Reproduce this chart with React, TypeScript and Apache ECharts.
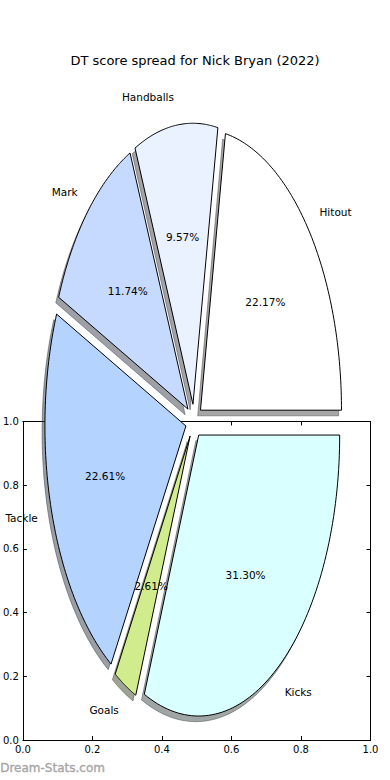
import React, { useEffect, useRef } from "react";
import * as echarts from "echarts";

const categories = ["Hitout", "Handballs", "Mark", "Tackle", "Goals", "Kicks"];
const percentages = [22.17, 9.57, 11.74, 22.61, 2.61, 31.3];
const axisTicks = [0, 0.2, 0.4, 0.6, 0.8, 1.0];
const titleText = "DT score spread for Nick Bryan (2022)";
const watermark = "Dream-Stats.com";

const sliceColors = ["#ffffff", "#eaf1ff", "#c6d9ff", "#b4d4ff", "#d0ec8c", "#d9ffff"];
const FONT = "DejaVu Sans";
const EXPLODE = 0.06;
const SHADOW = -0.02;

function hexRgb(h: string) {
  const n = parseInt(h.slice(1), 16);
  return [(n >> 16) & 255, (n >> 8) & 255, n & 255];
}

function geom(i: number) {
  const total = percentages.reduce((a, b) => a + b, 0);
  let cum = 0;
  for (let k = 0; k < i; k++) cum += percentages[k];
  const t1 = (cum / total) * 2 * Math.PI;
  const t2 = ((cum + percentages[i]) / total) * 2 * Math.PI;
  const mid = (t1 + t2) / 2;
  const ox = EXPLODE * Math.cos(mid);
  const oy = EXPLODE * Math.sin(mid);
  return { t1, t2, mid, ox, oy };
}

function wedgePoints(api: any, i: number, dx: number, dy: number) {
  const g = geom(i);
  const pts: number[][] = [api.coord([g.ox + dx, g.oy + dy])];
  const n = 80;
  for (let k = 0; k <= n; k++) {
    const t = g.t1 + ((g.t2 - g.t1) * k) / n;
    pts.push(api.coord([g.ox + dx + Math.cos(t), g.oy + dy + Math.sin(t)]));
  }
  return pts;
}

export default function App() {
  const ref = useRef<HTMLDivElement>(null);
  useEffect(() => {
    if (!ref.current) return;
    const chart = echarts.init(ref.current, null, { renderer: "svg" });
    const data = percentages.map((v, i) => [i, v]);
    const tickFmt = (v: number) => v.toFixed(1);
    const axisCommon = {
      type: "value",
      min: 0,
      max: 1,
      interval: 0.2,
      gridIndex: 0,
      splitLine: { show: false },
      axisLine: { show: true, onZero: false, lineStyle: { color: "#000", width: 1 } },
      axisTick: { show: true, inside: true, length: 4, lineStyle: { color: "#000" } },
    };
    chart.setOption({
      animation: false,
      backgroundColor: "#fff",
      textStyle: { fontFamily: FONT },
      title: {
        text: titleText,
        left: "center",
        top: 54,
        padding: 0,
        textStyle: { fontFamily: FONT, fontSize: 13, fontWeight: "normal", color: "#000" },
      },
      grid: [
        { left: 20, right: 19.5, top: 421.5, bottom: 40, containLabel: false },
        { left: 53, right: 55, top: 140, bottom: 78, containLabel: false },
      ],
      xAxis: [
        {
          ...axisCommon,
          position: "bottom",
          axisLabel: { show: true, fontSize: 10, color: "#000", margin: 4, formatter: tickFmt, fontFamily: FONT, customValues: axisTicks },
        },
        { ...axisCommon, position: "top", axisLabel: { show: false } },
        { type: "value", gridIndex: 1, min: -1, max: 1, show: false },
      ],
      yAxis: [
        {
          ...axisCommon,
          position: "left",
          axisLabel: { show: true, fontSize: 10, color: "#000", margin: 4, formatter: tickFmt, fontFamily: FONT },
        },
        { ...axisCommon, position: "right", axisLabel: { show: false } },
        { type: "value", gridIndex: 1, min: -1, max: 1, show: false },
      ],
      graphic: [
        {
          type: "text",
          left: 0,
          top: 762,
          style: { text: watermark, fill: "#a6a6a6", font: `12px "${FONT}"`, stroke: "#b0b0b0", lineWidth: 0.4 },
        },
      ],
      series: [
        {
          type: "custom",
          name: "shadow",
          xAxisIndex: 2,
          yAxisIndex: 2,
          data,
          silent: true,
          renderItem: (params: any, api: any) => {
            const i = params.dataIndex;
            const [r, g, b] = hexRgb(sliceColors[i]).map((c) => Math.round(c * 0.3));
            const col = `rgba(${r},${g},${b},0.5)`;
            return {
              type: "polygon",
              shape: { points: wedgePoints(api, i, SHADOW, SHADOW) },
              style: { fill: col, stroke: col, lineWidth: 1 },
            };
          },
        },
        {
          type: "custom",
          name: "DT score spread",
          xAxisIndex: 2,
          yAxisIndex: 2,
          data,
          renderItem: (params: any, api: any) => {
            const i = params.dataIndex;
            return {
              type: "polygon",
              shape: { points: wedgePoints(api, i, 0, 0) },
              style: { fill: sliceColors[i], stroke: "#000", lineWidth: 1 },
            };
          },
        },
        {
          type: "custom",
          name: "labels",
          xAxisIndex: 2,
          yAxisIndex: 2,
          data,
          silent: true,
          renderItem: (params: any, api: any) => {
            const i = params.dataIndex;
            const g = geom(i);
            const c = Math.cos(g.mid);
            const s = Math.sin(g.mid);
            const lp = api.coord([g.ox + 1.1 * c, g.oy + 1.1 * s]);
            const pp = api.coord([g.ox + 0.6 * c, g.oy + 0.6 * s]);
            return {
              type: "group",
              children: [
                {
                  type: "text",
                  x: lp[0],
                  y: lp[1],
                  style: {
                    text: categories[i],
                    fill: "#000",
                    font: `10.5px "${FONT}"`,
                    align: c > 0 ? "left" : "right",
                    verticalAlign: "middle",
                  },
                },
                {
                  type: "text",
                  x: pp[0],
                  y: pp[1],
                  style: {
                    text: api.value(1).toFixed(2) + "%",
                    fill: "#000",
                    font: `10.5px "${FONT}"`,
                    align: "center",
                    verticalAlign: "middle",
                  },
                },
              ],
            };
          },
        },
      ],
    });
    return () => chart.dispose();
  }, []);
  return (
    <div
      ref={ref}
      style={{ position: "fixed", left: 0, top: 0, width: 390, height: 780, background: "#fff" }}
    />
  );
}
